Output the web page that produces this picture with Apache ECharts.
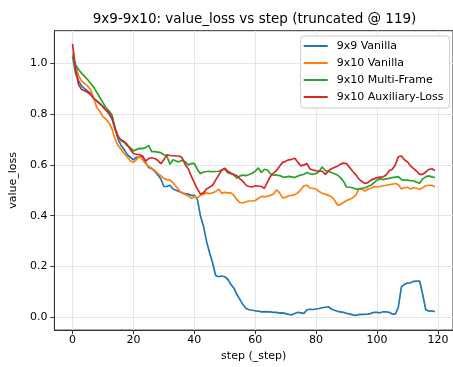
<!DOCTYPE html>
<html><head><meta charset="utf-8">
<script src="https://cdn.jsdelivr.net/npm/echarts@6/dist/echarts.min.js"></script>
<style>html,body{margin:0;padding:0;background:#fff}#c{width:453px;height:367px}</style>
</head><body><div id="c"></div>
<script>
const titleText = '9x9-9x10: value_loss vs step (truncated @ 119)';
const seriesNames = ['9x9 Vanilla', '9x10 Vanilla', '9x10 Multi-Frame', '9x10 Auxiliary-Loss'];
const colors = ['#1f77b4', '#ff7f0e', '#2ca02c', '#d62728'];
const xTicks = [0, 20, 40, 60, 80, 100, 120];
const yTicks = [0, 0.2, 0.4, 0.6, 0.8, 1.0];

const vanilla9x9 = [1.03,0.96,0.93,0.91,0.90,0.89,0.88,0.86,0.85,0.84,
0.83,0.815,0.80,0.78,0.74,0.70,0.675,0.66,0.64,0.63,
0.62,0.63,0.63,0.635,0.61,0.59,0.585,0.575,0.56,0.545,
0.515,0.515,0.52,0.505,0.50,0.495,0.49,0.487,0.485,0.48,
0.48,0.465,0.40,0.36,0.30,0.255,0.215,0.165,0.16,0.163,
0.16,0.15,0.13,0.115,0.09,0.07,0.05,0.035,0.03,0.028,
0.026,0.025,0.022,0.023,0.022,0.022,0.02,0.02,0.017,0.018,
0.015,0.012,0.01,0.015,0.02,0.018,0.016,0.03,0.032,0.031,
0.033,0.035,0.038,0.04,0.042,0.033,0.028,0.024,0.022,0.02,
0.016,0.014,0.01,0.008,0.011,0.012,0.012,0.013,0.016,0.02,
0.02,0.018,0.022,0.022,0.02,0.013,0.013,0.04,0.12,0.13,
0.135,0.136,0.142,0.143,0.143,0.09,0.03,0.025,0.026,0.022];

const vanilla9x10 = [1.04,0.99,0.95,0.93,0.92,0.91,0.895,0.86,0.825,0.81,
0.79,0.78,0.765,0.74,0.70,0.675,0.66,0.645,0.63,0.615,
0.61,0.62,0.635,0.62,0.605,0.595,0.587,0.578,0.567,0.557,
0.547,0.542,0.54,0.53,0.515,0.50,0.49,0.484,0.478,0.468,
0.475,0.47,0.48,0.485,0.49,0.487,0.49,0.495,0.505,0.488,
0.492,0.49,0.49,0.48,0.463,0.452,0.45,0.455,0.458,0.458,
0.46,0.468,0.476,0.475,0.476,0.48,0.485,0.502,0.49,0.47,
0.472,0.479,0.48,0.483,0.49,0.503,0.518,0.52,0.509,0.508,
0.505,0.495,0.488,0.485,0.48,0.475,0.462,0.442,0.444,0.452,
0.46,0.465,0.47,0.48,0.505,0.505,0.497,0.505,0.508,0.514,
0.513,0.515,0.518,0.52,0.522,0.524,0.527,0.522,0.505,0.51,
0.512,0.505,0.51,0.508,0.504,0.51,0.518,0.52,0.52,0.513];

const multiFrame9x10 = [1.026,0.993,0.975,0.96,0.948,0.935,0.92,0.905,0.885,0.865,
0.845,0.825,0.812,0.795,0.745,0.71,0.695,0.688,0.675,0.668,
0.655,0.66,0.665,0.664,0.668,0.676,0.652,0.652,0.65,0.648,
0.64,0.635,0.602,0.62,0.615,0.612,0.618,0.612,0.60,0.605,
0.606,0.582,0.565,0.572,0.574,0.575,0.573,0.574,0.575,0.58,
0.583,0.568,0.565,0.56,0.548,0.557,0.56,0.558,0.562,0.567,
0.575,0.588,0.57,0.583,0.58,0.565,0.56,0.56,0.558,0.553,
0.552,0.555,0.553,0.55,0.556,0.56,0.563,0.57,0.565,0.563,
0.566,0.575,0.592,0.578,0.574,0.57,0.565,0.56,0.55,0.535,
0.513,0.512,0.51,0.505,0.505,0.508,0.51,0.515,0.52,0.53,
0.54,0.546,0.542,0.545,0.547,0.55,0.552,0.554,0.542,0.54,
0.54,0.538,0.537,0.532,0.528,0.545,0.553,0.557,0.553,0.55];

const auxLoss9x10 = [1.076,0.98,0.915,0.897,0.892,0.885,0.875,0.862,0.852,0.842,
0.828,0.815,0.808,0.785,0.74,0.712,0.698,0.692,0.68,0.66,
0.645,0.642,0.64,0.635,0.615,0.625,0.628,0.625,0.618,0.605,
0.62,0.64,0.637,0.636,0.635,0.635,0.628,0.602,0.585,0.556,
0.53,0.505,0.485,0.49,0.505,0.512,0.52,0.54,0.56,0.58,
0.587,0.575,0.568,0.562,0.557,0.545,0.535,0.52,0.515,0.513,
0.518,0.517,0.515,0.508,0.532,0.555,0.568,0.578,0.595,0.61,
0.614,0.62,0.622,0.626,0.61,0.596,0.6,0.605,0.584,0.58,
0.577,0.576,0.575,0.563,0.575,0.585,0.59,0.595,0.603,0.607,
0.605,0.59,0.575,0.562,0.545,0.535,0.527,0.53,0.54,0.545,
0.55,0.552,0.553,0.56,0.577,0.583,0.6,0.632,0.635,0.62,
0.612,0.596,0.585,0.575,0.563,0.563,0.572,0.582,0.585,0.578];

const allValues = [vanilla9x9, vanilla9x10, multiFrame9x10, auxLoss9x10];
const FONT = 'DejaVu Sans';
const gridLeft = 53.3, gridTop = 30.7, gridW = 402.5, gridH = 301;

const chart = echarts.init(document.getElementById('c'), null, {renderer: 'canvas'});
const series = allValues.map((vals, i) => ({
  name: seriesNames[i],
  type: 'line',
  data: vals.map((v, k) => [k, v]),
  showSymbol: false,
  symbol: 'none',
  lineStyle: {color: colors[i], width: 1.7},
  itemStyle: {color: colors[i]},
  emphasis: {disabled: true},
  z: 3 + i
}));

chart.setOption({
  animation: false,
  backgroundColor: '#fff',
  textStyle: {fontFamily: FONT},
  graphic: [{
    type: 'text', x: gridLeft + gridW / 2, y: 19,
    style: {text: titleText, font: '13.5px "DejaVu Sans"', fill: '#000', textAlign: 'center', textVerticalAlign: 'middle'}
  }],
  grid: {left: gridLeft, top: gridTop, width: gridW, height: gridH, show: true, borderColor: '#333', borderWidth: 1, backgroundColor: 'transparent'},
  legend: {
    orient: 'vertical', left: 300.7, top: 36,
    data: seriesNames.map((n, i) => ({name: n, icon: 'rect', itemStyle: {color: colors[i]}})),
    itemWidth: 24, itemHeight: 2, itemGap: 3,
    padding: [3, 6, 4, 3],
    backgroundColor: '#fff', borderColor: '#cccccc', borderWidth: 1, borderRadius: 3,
    textStyle: {fontFamily: FONT, fontSize: 11, color: '#000', lineHeight: 14, padding: [0, 0, 0, 4]},
    selectedMode: false
  },
  xAxis: {
    type: 'value', min: -5.95, max: 124.95,
    name: 'step (_step)', nameLocation: 'middle', nameGap: 16,
    nameTextStyle: {fontFamily: FONT, fontSize: 11, color: '#000'},
    axisLine: {show: true, onZero: false, lineStyle: {color: '#333', width: 1}},
    axisTick: {show: true, length: 4, lineStyle: {color: '#333'}, customValues: xTicks},
    axisLabel: {fontFamily: FONT, fontSize: 11, color: '#000', margin: 5, customValues: xTicks},
    splitLine: {show: true, lineStyle: {color: '#e6e6e6', width: 1}}
  },
  yAxis: {
    type: 'value', min: -0.05, max: 1.128,
    name: 'value_loss', nameLocation: 'middle', nameGap: 27,
    nameTextStyle: {fontFamily: FONT, fontSize: 11, color: '#000'},
    axisLine: {show: true, onZero: false, lineStyle: {color: '#333', width: 1}},
    axisTick: {show: true, length: 4, lineStyle: {color: '#333'}, customValues: yTicks},
    axisLabel: {fontFamily: FONT, fontSize: 11, color: '#000', margin: 7, customValues: yTicks, formatter: v => v.toFixed(1)},
    splitLine: {show: true, lineStyle: {color: '#e6e6e6', width: 1}}
  },
  series: series
});
</script></body></html>
